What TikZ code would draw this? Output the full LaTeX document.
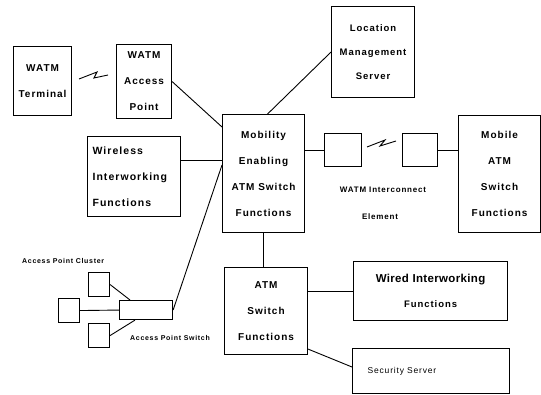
\documentclass[tikz,border=0pt]{standalone}
\usepackage{fontspec}
\setmainfont{Liberation Sans}
\newfontfamily\spaced{Liberation Sans}[LetterSpace=10]
\newfontfamily\wide{Liberation Sans}[LetterSpace=3]
\usetikzlibrary{calc}
\begin{document}
\begin{tikzpicture}[x=1pt,y=-1pt,
  box/.style={draw,line width=1.1pt,anchor=north west,inner sep=0pt,align=center,
    font=\spaced\bfseries\fontsize{10}{26}\selectfont},
  tiny/.style={draw,line width=1.1pt,anchor=north west,inner sep=0pt},
  link/.style={line width=0.9pt},
  small/.style={font=\spaced\bfseries\fontsize{7}{8}\selectfont,inner sep=0pt}]
\useasboundingbox (0,0) rectangle (541,395);
% boxes
\node[box,minimum width=58pt,minimum height=69pt] (term) at (13,46) {WATM\\Terminal};
\node[box,minimum width=55pt,minimum height=74pt] (ap) at (116,44) {WATM\\Access\\Point};
\node[box,minimum width=83pt,minimum height=91pt,font=\spaced\bfseries\fontsize{9.5}{24}\selectfont] (loc) at (331,6) {Location\\Management\\Server};
\node[box,minimum width=82pt,minimum height=118pt] (mob) at (222,114) {Mobility\\Enabling\\ATM Switch\\Functions};
\node[box,minimum width=93pt,minimum height=80pt,align=left,text width=83pt,font=\spaced\bfseries\fontsize{10.5}{26}\selectfont] (wif) at (87,136) {Wireless\\Interworking\\Functions};
\node[tiny,minimum width=37pt,minimum height=33pt] (s1) at (324,133) {};
\node[tiny,minimum width=35pt,minimum height=33pt] (s2) at (402,133) {};
\node[box,minimum width=82pt,minimum height=117pt] (mats) at (458,115) {Mobile\\ATM\\Switch\\Functions};
\node[box,minimum width=83pt,minimum height=87pt] (atm) at (224,267) {ATM\\Switch\\Functions};
\node[box,minimum width=154pt,minimum height=59pt,font=\wide\bfseries\fontsize{11.5}{25}\selectfont] (wired) at (353,261) {Wired Interworking\\{\spaced\fontsize{9.5}{10}\selectfont Functions}};
\node[box,minimum width=157pt,minimum height=45pt,align=left,text width=127pt,font=\spaced\fontsize{8.5}{10}\selectfont] (sec) at (352,348) {Security Server};
% access point cluster
\node[tiny,minimum width=21pt,minimum height=24pt] (c1) at (88,272) {};
\node[tiny,minimum width=21pt,minimum height=24pt] (c2) at (58,298) {};
\node[tiny,minimum width=21pt,minimum height=24pt] (c3) at (88,323) {};
\node[tiny,minimum width=53pt,minimum height=19pt] (sw) at (119,300) {};
\node[small,anchor=west] (apclab) at (22,261) {Access Point Cluster};
\node[small,anchor=west] (apslab) at (130,338) {Access Point Switch};
\node[font=\spaced\bfseries\fontsize{8}{9}\selectfont,inner sep=0pt] (icl1) at (383,190) {WATM Interconnect};
\node[font=\spaced\bfseries\fontsize{8}{9}\selectfont,inner sep=0pt] (icl2) at (380,217) {Element};
% radio links
\coordinate (za) at (79,79);
\coordinate (zb) at (108,75);
\draw[link] (za) -- (97,72) -- (94,78) -- (zb);
\coordinate (zc) at (367,147);
\coordinate (zd) at (396,141);
\draw[link] (zc) -- (385,140) -- (380,146) -- (zd);
% connectors
\draw[link] (ap.east) -- ($(mob.north west)+(0,13)$);
\draw[link] ($(mob.north)+(4,0)$) -- (loc.west);
\draw[link] ($(wif.north east)+(0,24)$) -- ($(mob.north west)+(0,46)$);
\draw[link] ($(mob.north west)+(0,51)$) -- (sw.east);
\draw[link] (mob.south) -- (mob.south |- atm.north);
\draw[link] (s1.west -| mob.east) -- (s1.west);
\draw[link] (s2.east) -- (s2.east -| mats.west);
\draw[link] (wired.west -| atm.east) -- (wired.west);
\draw[link] ($(atm.south east)+(0,-6)$) -- ($(sec.north west)+(0,19)$);
\draw[link] (c2.east) -- (sw.west);
\draw[link] (c1.east) -- ($(sw.north west)+(11,0)$);
\draw[link] (c3.east) -- ($(sw.south west)+(16,0)$);
\end{tikzpicture}
\end{document}
